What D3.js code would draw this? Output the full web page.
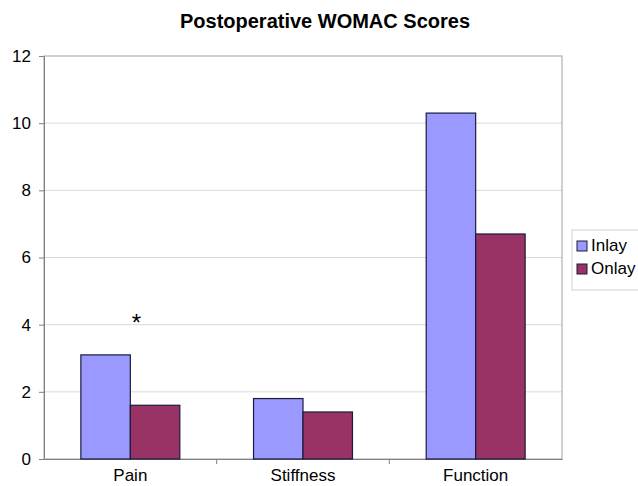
<!DOCTYPE html>
<html>
<head>
<meta charset="utf-8">
<script src="https://cdn.jsdelivr.net/npm/d3@7"></script>
<style>
  body { margin: 0; background: #fff; }
  text { font-family: "Liberation Sans", Arial, sans-serif; fill: #000; }
</style>
</head>
<body>
<div id="chart"></div>
<script>
// data
const categories = ["Pain", "Stiffness", "Function"];
const seriesNames = ["Inlay", "Onlay"];
const inlay = [3.1, 1.8, 10.3];
const onlay = [1.6, 1.4, 6.7];
const yTicks = [0, 2, 4, 6, 8, 10, 12];
const colors = ["#9999ff", "#993366"];

const margin = {top: 56, right: 76, bottom: 27, left: 44},
    width = 638 - margin.left - margin.right,
    height = 486 - margin.top - margin.bottom;

const svg = d3.select("#chart")
  .append("svg")
    .attr("width", 638)
    .attr("height", 486);

const g = svg.append("g")
    .attr("transform", `translate(${margin.left},${margin.top})`);

// title
svg.append("text")
    .attr("x", 325)
    .attr("y", 28)
    .attr("text-anchor", "middle")
    .style("font-size", "20px")
    .style("font-weight", "bold")
    .text("Postoperative WOMAC Scores");

const x = d3.scaleBand()
    .domain(categories)
    .range([0, width])
    .paddingInner(0.427)
    .paddingOuter(0.2135);

const xs = d3.scaleBand()
    .domain(seriesNames)
    .range([0, x.bandwidth()]);

const y = d3.scaleLinear()
    .domain([0, 12])
    .range([height, 0]);

// grid lines
g.append("g")
  .selectAll("line")
  .data(yTicks.filter(d => d > 0 && d < 12))
  .join("line")
    .attr("x1", 0)
    .attr("x2", width)
    .attr("y1", d => y(d))
    .attr("y2", d => y(d))
    .attr("stroke", "#d9d9d9")
    .attr("stroke-width", 1);

// plot border
g.append("rect")
    .attr("x", 0)
    .attr("y", 0)
    .attr("width", width)
    .attr("height", height)
    .attr("fill", "none")
    .attr("stroke", "#a0a0a0")
    .attr("stroke-width", 1);

// y axis
const yAxis = g.append("g")
    .call(d3.axisLeft(y)
      .tickValues(yTicks)
      .tickSizeInner(5)
      .tickSizeOuter(0)
      .tickPadding(8));
yAxis.select(".domain").attr("stroke", "#808080");
yAxis.selectAll(".tick line").attr("stroke", "#808080");
yAxis.selectAll(".tick text").style("font-size", "17px");

// x axis
const xAxis = g.append("g")
    .attr("transform", `translate(0,${height})`)
    .call(d3.axisBottom(x).tickSize(0).tickPadding(10));
xAxis.select(".domain").attr("stroke", "#808080");
xAxis.selectAll(".tick text").style("font-size", "17px");

// small tick marks between categories
g.append("g")
  .selectAll("line")
  .data(categories.slice(1))
  .join("line")
    .attr("x1", d => x(d) - x.step() * x.paddingInner() / 2)
    .attr("x2", d => x(d) - x.step() * x.paddingInner() / 2)
    .attr("y1", height)
    .attr("y2", height + 5)
    .attr("stroke", "#808080");

// bars
const rows = categories.map((c, i) => ({cat: c, vals: [inlay[i], onlay[i]]}));
g.append("g")
  .selectAll("g")
  .data(rows)
  .join("g")
    .attr("transform", d => `translate(${x(d.cat)},0)`)
  .selectAll("rect")
  .data(d => d.vals.map((v, j) => ({name: seriesNames[j], value: v, j: j})))
  .join("rect")
    .attr("x", d => xs(d.name))
    .attr("y", d => y(d.value))
    .attr("width", xs.bandwidth())
    .attr("height", d => height - y(d.value))
    .attr("fill", d => colors[d.j])
    .attr("stroke", "#1a1a3a")
    .attr("stroke-width", 1.2);

// significance marker
g.append("text")
    .attr("x", x("Pain") + xs.bandwidth() + 6)
    .attr("y", y(inlay[0]) - 24)
    .attr("text-anchor", "middle")
    .style("font-size", "24px")
    .text("*");

// legend
const legend = svg.append("g")
    .attr("transform", "translate(572,230)");
legend.append("rect")
    .attr("width", 80)
    .attr("height", 60)
    .attr("fill", "#fff")
    .attr("stroke", "#d0d0d0");
const li = legend.selectAll(".item")
  .data(seriesNames)
  .join("g")
    .attr("class", "item")
    .attr("transform", (d, i) => `translate(5,${11 + i * 23})`);
li.append("rect")
    .attr("width", 10)
    .attr("height", 10)
    .attr("fill", (d, i) => colors[i])
    .attr("stroke", "#1a1a3a");
li.append("text")
    .attr("x", 14)
    .attr("y", 10)
    .style("font-size", "17px")
    .text(d => d);
</script>
</body>
</html>
